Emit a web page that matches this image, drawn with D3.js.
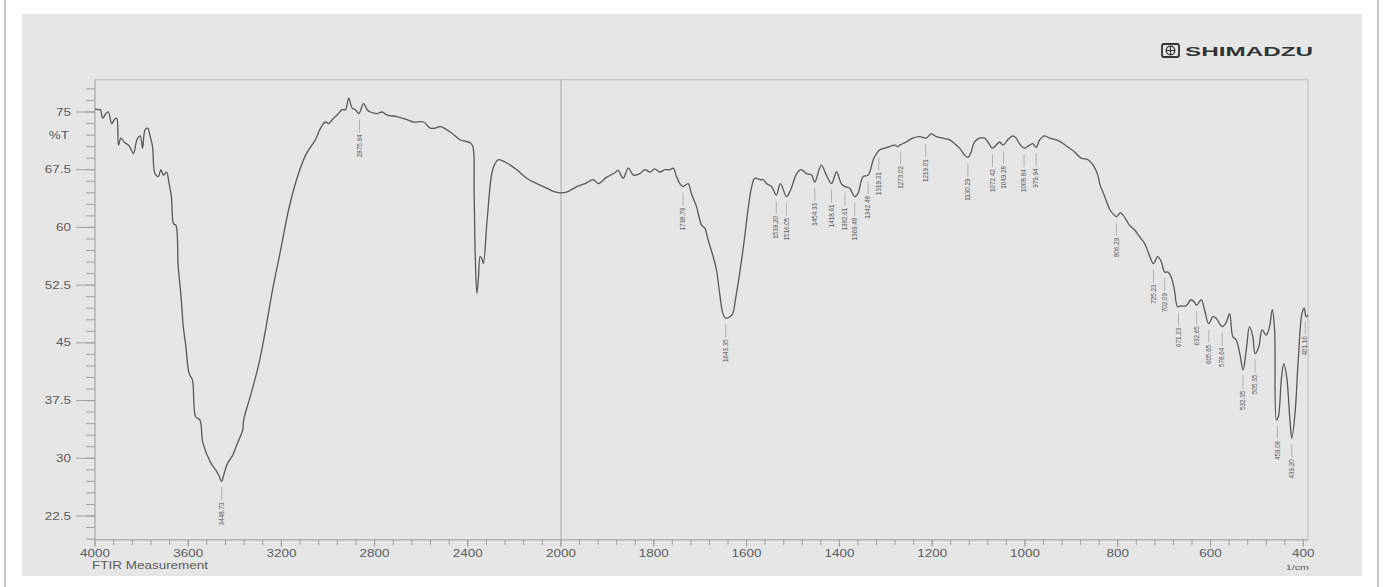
<!DOCTYPE html>
<html>
<head>
<meta charset="utf-8">
<script src="https://cdn.jsdelivr.net/npm/d3@7/dist/d3.min.js"></script>
<style>
  body { margin: 0; background: #fff; }
  text { font-family: Arial, "Liberation Sans", sans-serif; }
</style>
</head>
<body>
<svg id="chart" width="1383" height="587"></svg>
<script>
// spectrum (1/cm, %T)
var wavenumber = [
  4000, 3988, 3977, 3967, 3953, 3943, 3928, 3917, 3907, 3899, 3889, 3875, 3853, 3835, 3820, 3806,
  3796, 3785, 3774, 3763, 3753, 3743, 3729, 3717, 3706, 3693, 3682, 3672, 3663, 3653, 3643, 3632,
  3621, 3610, 3596, 3582, 3568, 3550, 3537, 3503, 3482, 3469, 3456, 3448, 3430, 3409, 3388, 3366,
  3362, 3332, 3298, 3268, 3238, 3203, 3169, 3135, 3096, 3054, 3032, 3011, 2997, 2982, 2961, 2939,
  2925, 2911, 2896, 2882, 2868, 2847, 2832, 2818, 2789, 2768, 2746, 2704, 2661, 2633, 2590, 2561,
  2540, 2518, 2475, 2433, 2390, 2378, 2373, 2368, 2361, 2354, 2347, 2340, 2333, 2318, 2297, 2283,
  2268, 2240, 2218, 2190, 2147, 2104, 2061, 2033, 2004, 1988, 1966, 1948, 1930, 1920, 1902, 1884,
  1877, 1866, 1855, 1844, 1830, 1819, 1808, 1798, 1787, 1776, 1765, 1758, 1751, 1744, 1737, 1726,
  1719, 1708, 1697, 1690, 1683, 1672, 1665, 1658, 1651, 1645, 1636, 1630, 1623, 1615, 1604, 1597,
  1589, 1582, 1571, 1564, 1557, 1546, 1536, 1527, 1514, 1505, 1492, 1482, 1471, 1460, 1453, 1439,
  1428, 1417, 1406, 1396, 1388, 1378, 1367, 1360, 1349, 1338, 1327, 1320, 1313, 1302, 1292, 1281,
  1274, 1270, 1256, 1242, 1227, 1213, 1202, 1199, 1191, 1177, 1163, 1152, 1141, 1130, 1123, 1116,
  1109, 1098, 1087, 1080, 1070, 1062, 1055, 1047, 1037, 1026, 1019, 1012, 1001, 990, 983, 976,
  968, 958, 947, 933, 918, 904, 893, 879, 864, 853, 843, 839, 828, 817, 809, 803,
  794, 782, 775, 764, 753, 742, 732, 723, 714, 706, 699, 692, 685, 678, 671, 664,
  653, 642, 635, 630, 620, 613, 604, 595, 588, 575, 566, 559, 552, 545, 537, 530,
  523, 516, 509, 504, 496, 489, 480, 473, 467, 462, 458, 454, 447, 442, 436, 429,
  425, 418, 411, 403, 398, 394, 390
];
var transmittance = [
  75.4, 75.3, 75.3, 74.2, 74.8, 75.0, 73.5, 74.0, 74.2, 70.7, 71.6, 71.1, 70.6, 69.6, 71.4, 71.9,
  70.3, 72.7, 72.9, 71.8, 70.5, 67.0, 66.6, 67.5, 66.8, 67.2, 65.7, 64.0, 60.5, 60.3, 54.9, 51.5,
  47.1, 44.5, 41.0, 40.2, 35.4, 35.0, 32.0, 29.4, 28.5, 27.8, 27.0, 27.8, 29.4, 30.4, 32.0, 33.7,
  35.0, 38.2, 42.1, 46.7, 51.9, 57.1, 62.3, 66.2, 69.4, 71.4, 72.9, 73.7, 73.5, 74.0, 74.6, 75.3,
  75.3, 76.8, 75.5, 75.3, 74.8, 76.1, 75.3, 75.0, 74.8, 75.0, 74.6, 74.4, 74.0, 73.7, 73.7, 72.9,
  72.9, 73.1, 72.4, 71.4, 71.0, 70.5, 64.9, 56.2, 51.4, 53.6, 56.2, 56.0, 55.3, 60.6, 67.0, 68.3,
  68.8, 68.5, 68.1, 67.5, 66.4, 65.7, 65.1, 64.7, 64.5, 64.6, 65.3, 65.7, 66.2, 65.7, 66.5, 67.1,
  67.4, 66.4, 67.7, 66.8, 67.0, 67.5, 67.2, 67.6, 67.2, 67.5, 67.5, 67.7, 66.6, 65.7, 65.3, 65.7,
  64.4, 62.7, 60.3, 59.9, 58.4, 56.2, 54.5, 51.4, 48.8, 48.2, 48.4, 48.8, 51.0, 54.0, 58.8, 62.3,
  65.3, 66.4, 66.2, 66.2, 65.7, 65.3, 64.2, 65.7, 64.0, 64.9, 67.0, 67.5, 67.0, 66.8, 65.9, 68.1,
  66.8, 65.7, 67.2, 65.7, 65.3, 65.1, 64.0, 64.4, 66.6, 66.8, 68.8, 69.6, 70.1, 70.3, 70.5, 70.7,
  70.5, 70.7, 71.1, 71.6, 71.8, 71.6, 72.2, 72.1, 71.8, 71.6, 71.4, 70.9, 70.3, 69.4, 69.1, 69.8,
  71.1, 71.6, 71.6, 71.1, 70.3, 70.7, 71.1, 70.7, 71.4, 71.9, 71.6, 70.9, 70.3, 70.7, 70.9, 70.4,
  71.4, 71.9, 71.6, 71.4, 70.9, 70.3, 69.8, 69.0, 68.8, 68.1, 66.8, 65.7, 64.0, 62.3, 61.7, 61.4,
  61.9, 61.0, 60.3, 59.7, 58.8, 57.9, 56.4, 55.3, 56.2, 55.5, 54.2, 54.2, 53.6, 51.9, 49.7, 49.8,
  49.8, 50.6, 50.3, 49.9, 50.6, 49.3, 47.5, 48.4, 48.2, 47.1, 47.7, 48.8, 45.8, 45.4, 43.6, 41.5,
  44.1, 47.1, 45.8, 43.6, 44.5, 46.7, 46.0, 47.1, 49.3, 46.7, 35.0, 35.4, 40.6, 42.3, 40.6, 35.0,
  32.6, 35.8, 42.8, 48.8, 49.5, 48.4, 48.6
];

// peak picks: printed text, where the tick sits (1/cm), %T at the trough
var peakText = ["3448.73", "2875.94", "1738.79", "1643.35", "1539.20", "1516.05", "1454.33", "1418.61",
  "1382.61", "1369.48", "1342.48", "1319.31", "1273.02", "1219.01", "1130.29", "1072.42", "1049.28",
  "1008.84", "979.94", "806.29", "725.23", "702.09", "671.23", "632.65", "605.65", "578.64", "532.35",
  "505.35", "459.06", "439.20", "401.16"];
var peakAt = [3456, 2865, 1737, 1645, 1536, 1514, 1453, 1417, 1388, 1367, 1338, 1315, 1268, 1214, 1123,
  1070, 1046, 1002, 976, 803, 723, 699, 669, 630, 604, 575, 530, 504, 456, 425, 396];
var peakT = [27.0, 74.8, 65.3, 48.2, 64.2, 64.0, 65.9, 65.7, 65.3, 64.0, 66.8, 69.9, 70.7, 71.6, 69.1,
  70.3, 70.7, 70.3, 70.4, 61.4, 55.3, 54.2, 49.7, 49.9, 47.5, 47.1, 41.5, 43.6, 35.0, 32.6, 48.6];

var xTickLabels = [4000, 3600, 3200, 2800, 2400, 2000, 1800, 1600, 1400, 1200, 1000, 800, 600, 400];
var yTickLabels = [75, 67.5, 60, 52.5, 45, 37.5, 30, 22.5];

var svg = d3.select("#chart");

// x axis is doubled below 2000 1/cm, as on the instrument printout
var xScale = d3.scaleLinear().domain([4000, 2000, 390]).range([95, 561, 1308]);
var yScale = d3.scaleLinear().domain([22.5, 75]).range([516, 112]);
var yTop = yScale(79.2);
var yBot = yScale(19.4);
var xLeft = xScale(4000);
var xRight = xScale(390);

// paper
svg.append("rect").attr("x", 0).attr("y", 0).attr("width", 1383).attr("height", 587).attr("fill", "#fff");
svg.append("rect").attr("x", 22).attr("y", 14).attr("width", 1340).attr("height", 562).attr("fill", "#e6e6e6");
svg.append("line").attr("x1", 5).attr("x2", 5).attr("y1", 0).attr("y2", 587)
  .attr("stroke", "#b4b4b4").attr("stroke-width", 1.5);
svg.append("line").attr("x1", 1378).attr("x2", 1378).attr("y1", 0).attr("y2", 587)
  .attr("stroke", "#b4b4b4").attr("stroke-width", 1.5);

// stretched text like the printer font
function wideText(g, xx, yy, str, anchor, size) {
  return g.append("text")
    .attr("transform", "translate(" + xx + "," + yy + ") scale(1.35,1)")
    .attr("text-anchor", anchor)
    .attr("font-size", size)
    .attr("fill", "#5c5c5c")
    .text(str);
}

var frame = svg.append("g");
frame.append("line").attr("x1", xLeft).attr("x2", xRight).attr("y1", yTop).attr("y2", yTop)
  .attr("stroke", "#bdbdbd");
frame.append("line").attr("x1", xRight).attr("x2", xRight).attr("y1", yTop).attr("y2", yBot)
  .attr("stroke", "#bdbdbd");
frame.append("line").attr("x1", xScale(2000)).attr("x2", xScale(2000)).attr("y1", yTop).attr("y2", yBot)
  .attr("stroke", "#a8a8a8");

// y axis
var yAxis = svg.append("g");
yAxis.append("line").attr("x1", xLeft).attr("x2", xLeft).attr("y1", yTop).attr("y2", yBot).attr("stroke", "#999");
yAxis.selectAll(".yminor").data(d3.range(19.5, 78.1, 1.5)).enter().append("line")
  .attr("x1", xLeft - 9).attr("x2", xLeft)
  .attr("y1", function(d) { return yScale(d); })
  .attr("y2", function(d) { return yScale(d); })
  .attr("stroke", "#a0a0a0");
yAxis.selectAll(".ymajor").data(yTickLabels).enter().append("line")
  .attr("x1", xLeft - 19).attr("x2", xLeft)
  .attr("y1", function(d) { return yScale(d); })
  .attr("y2", function(d) { return yScale(d); })
  .attr("stroke", "#a0a0a0");
yTickLabels.forEach(function(d) {
  wideText(yAxis, xLeft - 24, yScale(d) + 3.5, d, "end", 10);
});
wideText(yAxis, xLeft - 26, yScale(72) + 3.5, "%T", "end", 10);

// x axis
var xAxis = svg.append("g");
xAxis.append("line").attr("x1", xLeft).attr("x2", xRight).attr("y1", yBot).attr("y2", yBot).attr("stroke", "#999");
var xMinor = d3.range(4000, 2000, -80).concat(d3.range(2000, 399, -40));
xAxis.selectAll(".xminor").data(xMinor).enter().append("line")
  .attr("x1", function(d) { return xScale(d); })
  .attr("x2", function(d) { return xScale(d); })
  .attr("y1", yBot).attr("y2", yBot + 5)
  .attr("stroke", "#a0a0a0");
xAxis.selectAll(".xmajor").data(xTickLabels).enter().append("line")
  .attr("x1", function(d) { return xScale(d); })
  .attr("x2", function(d) { return xScale(d); })
  .attr("y1", yBot).attr("y2", yBot + 7)
  .attr("stroke", "#a0a0a0");
xTickLabels.forEach(function(d) {
  wideText(xAxis, xScale(d), yBot + 17, d, "middle", 10);
});
wideText(xAxis, xLeft - 3, yBot + 29, "FTIR Measurement", "start", 10);
wideText(xAxis, xScale(400) - 6, yBot + 30, "1/cm", "middle", 8);

// spectrum
var spectrum = wavenumber.map(function(w, i) { return [w, transmittance[i]]; });
var line = d3.line()
  .curve(d3.curveCatmullRom.alpha(0.5))
  .x(function(d) { return xScale(d[0]); })
  .y(function(d) { return yScale(d[1]); });
svg.append("path")
  .datum(spectrum)
  .attr("fill", "none")
  .attr("stroke", "#585858")
  .attr("stroke-width", 1.3)
  .attr("stroke-linejoin", "round")
  .attr("d", line);

// peak picks
var peaks = svg.append("g");
peakText.forEach(function(t, i) {
  var px = xScale(peakAt[i]);
  var py = yScale(peakT[i]);
  peaks.append("line")
    .attr("x1", px).attr("x2", px)
    .attr("y1", py + 6).attr("y2", py + 19)
    .attr("stroke", "#a5a5a5").attr("stroke-width", 0.8);
  peaks.append("text")
    .attr("transform", "translate(" + (px + 2.2) + "," + (py + 21) + ") rotate(-90)")
    .attr("text-anchor", "end")
    .attr("font-size", 6.3)
    .attr("fill", "#555")
    .text(t);
});

// maker logo
var logo = svg.append("g").attr("fill", "none").attr("stroke", "#333");
logo.append("rect").attr("x", 1162).attr("y", 44).attr("width", 17).attr("height", 13).attr("rx", 2)
  .attr("stroke-width", 1.8);
logo.append("circle").attr("cx", 1170.5).attr("cy", 50.5).attr("r", 4.3).attr("stroke-width", 1.3);
logo.append("line").attr("x1", 1166).attr("x2", 1175).attr("y1", 50.5).attr("y2", 50.5).attr("stroke-width", 1.1);
logo.append("line").attr("x1", 1170.5).attr("x2", 1170.5).attr("y1", 46).attr("y2", 55).attr("stroke-width", 1.1);
svg.append("text")
  .attr("x", 1185).attr("y", 56)
  .attr("font-size", 13).attr("font-weight", "bold")
  .attr("fill", "#333")
  .attr("textLength", 128).attr("lengthAdjust", "spacingAndGlyphs")
  .text("SHIMADZU");
</script>
</body>
</html>
